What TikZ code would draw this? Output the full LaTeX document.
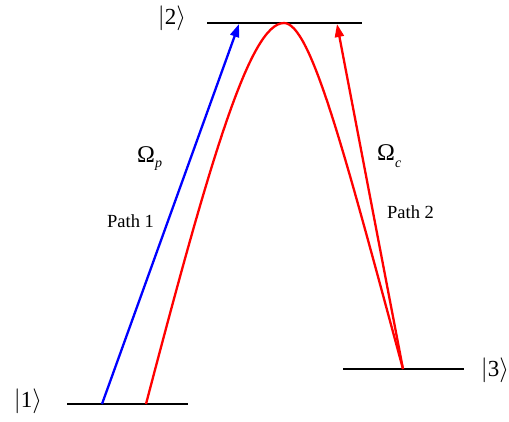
\documentclass[tikz,border=0pt]{standalone}
\usepackage{fontspec}
\setmainfont{Liberation Serif}
\usetikzlibrary{arrows.meta}
\begin{document}
\begin{tikzpicture}[x=1pt,y=-1pt,
  level/.style={line width=2.6pt,black},
  trans/.style={line width=2.3pt,-{Triangle[length=13pt,width=9pt]}},
  ket/.style={inner sep=0pt,font=\fontsize{23}{23}\selectfont},
  lbl/.style={inner sep=0pt,anchor=base west}]
\useasboundingbox (0,0) rectangle (509,421);
% level end points
\coordinate (l1a) at (67,404);
\coordinate (l1b) at (188,404);
\coordinate (l2a) at (207,23);
\coordinate (l2b) at (362,23);
\coordinate (l3a) at (343,369);
\coordinate (l3b) at (464,369);
% transition end points
\coordinate (b0) at (102,404);
\coordinate (b1) at (239,24);
\coordinate (r0) at (146,404);
\coordinate (pk) at (284,23);
\coordinate (r3) at (403,369);
\coordinate (ra) at (337,24);
% levels
\draw[level] (l1a) -- (l1b);
\draw[level] (l2a) -- (l2b);
\draw[level] (l3a) -- (l3b);
% transitions
\draw[trans,blue] (b0) -- (b1);
\draw[line width=2.3pt,red] (r0) .. controls (210,160) and (250,23) .. (pk)
  .. controls (311,23) and (345,155) .. (r3);
\draw[trans,red] (r3) -- (ra);
% kets
\node[ket] (k2) at (172,18) {$|$2$\rangle$};
\node[ket] (k1) at (28,401) {$|$1$\rangle$};
\node[ket] (k3) at (495,370) {$|$3$\rangle$};
% Rabi labels
\node[lbl] (op) at (137,162) {\fontsize{24}{24}\selectfont Ω\raisebox{-5pt}{\fontsize{14}{14}\selectfont\itshape p}};
\node[lbl] (oc) at (377,160) {\fontsize{24}{24}\selectfont Ω\raisebox{-7pt}{\fontsize{14}{14}\selectfont\itshape c}};
% path labels
\node[lbl] (p1) at (107,227) {\fontsize{18.5}{18.5}\selectfont Path 1};
\node[lbl] (p2) at (387,218) {\fontsize{18.5}{18.5}\selectfont Path 2};
\end{tikzpicture}
\end{document}
